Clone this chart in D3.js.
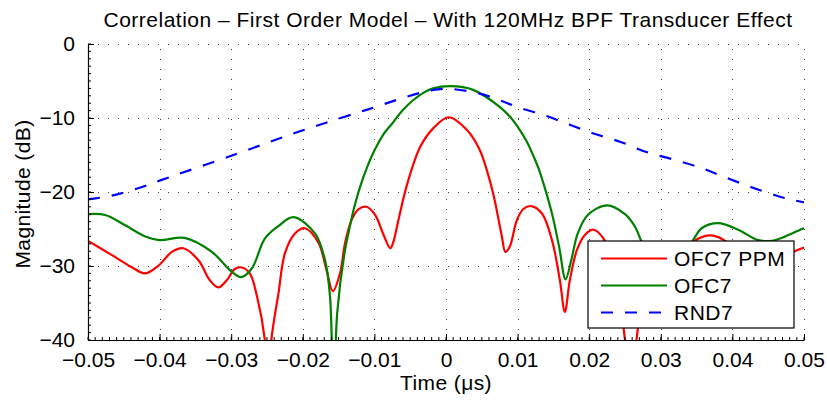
<!DOCTYPE html>
<html>
<head>
<meta charset="utf-8">
<script src="https://cdn.jsdelivr.net/npm/d3@7"></script>
<style>
  html, body { margin: 0; padding: 0; background: #ffffff; }
  svg { display: block; }
  text { font-family: "Liberation Sans", Arial, Helvetica, sans-serif; fill: #000; }
</style>
</head>
<body>
<svg id="chart" width="827" height="400"></svg>
<script>
// Correlation magnitude (dB) versus time offset (µs)
const seriesNames = ["OFC7 PPM", "OFC7", "RND7"];
const seriesColors = ["#ff0000", "#008000", "#0000ff"];

const ppmTime = [-0.0500, -0.0467, -0.0440, -0.0420, -0.0401, -0.0383, -0.0367, -0.0346, -0.0330, -0.0318,
  -0.0306, -0.0295, -0.0285, -0.0274, -0.0264, -0.0253, -0.0249, -0.0244, -0.0234, -0.0225,
  -0.0211, -0.0197, -0.0178, -0.0167, -0.0158, -0.0148, -0.0141, -0.0132, -0.0122, -0.0111,
  -0.0099, -0.0088, -0.0078, -0.0074, -0.0066, -0.0055, -0.0036, -0.0018, 0.0004, 0.0029,
  0.0047, 0.0061, 0.0068, 0.0078, 0.0083, 0.0089, 0.0099, 0.0108, 0.0119, 0.0134,
  0.0148, 0.0159, 0.0166, 0.0173, 0.0183, 0.0194, 0.0206, 0.0220, 0.0235, 0.0250,
  0.0257, 0.0266, 0.0280, 0.0295, 0.0315, 0.0330, 0.0345, 0.0360, 0.0373, 0.0390,
  0.0410, 0.0435, 0.0460, 0.0485, 0.0500];
const ppmDb = [-26.6, -28.5, -30.1, -31.0, -29.9, -28.1, -27.6, -29.2, -31.9, -32.9,
  -31.9, -30.4, -30.2, -31.0, -34.1, -40.0, -47.0, -40.0, -33.7, -28.3,
  -25.6, -24.9, -26.9, -30.5, -33.4, -31.0, -26.9, -23.8, -22.3, -22.0,
  -23.1, -25.6, -27.6, -26.9, -23.6, -19.2, -13.9, -11.4, -9.9, -11.6,
  -14.3, -18.4, -21.1, -26.0, -28.1, -27.4, -23.8, -22.3, -21.9, -22.9,
  -26.5, -31.9, -36.2, -31.9, -27.8, -25.8, -25.1, -26.3, -30.0, -40.0,
  -47.0, -40.0, -31.5, -30.0, -31.8, -29.0, -26.8, -26.0, -25.9, -26.6,
  -28.6, -30.4, -29.6, -28.1, -27.5];

const ofcTime = [-0.0500, -0.0476, -0.0448, -0.0420, -0.0400, -0.0365, -0.0327, -0.0299, -0.0286, -0.0271,
  -0.0253, -0.0234, -0.0213, -0.0183, -0.0169, -0.0162, -0.0157, -0.0152, -0.0141, -0.0135,
  -0.0128, -0.0120, -0.0110, -0.0100, -0.0088, -0.0074, -0.0060, -0.0046, -0.0030, -0.0018,
  0.0006, 0.0038, 0.0075, 0.0090, 0.0103, 0.0114, 0.0122, 0.0130, 0.0136, 0.0148,
  0.0158, 0.0167, 0.0175, 0.0184, 0.0198, 0.0225, 0.0250, 0.0264,
  0.0273, 0.0290, 0.0305, 0.0320, 0.0345, 0.0357, 0.0380, 0.0408, 0.0436, 0.0455,
  0.0474, 0.0497, 0.0500];
const ofcDb = [-23.0, -23.1, -24.5, -26.0, -26.5, -26.2, -28.1, -30.8, -31.5, -30.3,
  -26.3, -24.6, -23.4, -25.6, -29.2, -34.1, -48.0, -36.4, -27.8, -25.0,
  -22.0, -19.3, -16.6, -14.4, -12.3, -10.6, -8.9, -7.6, -6.5, -6.0,
  -5.7, -6.2, -8.5, -9.9, -11.6, -13.4, -15.1, -17.0, -18.8, -22.9,
  -27.4, -31.8, -29.2, -25.6, -23.1, -21.8, -23.0, -24.7,
  -26.7, -29.8, -31.0, -29.6, -26.5, -24.9, -24.2, -25.1, -26.5, -26.6,
  -26.0, -25.0, -24.9];

const rndTime = [-0.0500, -0.0467, -0.0430, -0.0398, -0.0297, -0.0204, -0.0111, -0.0036, -0.0008, 0.0010,
  0.0047, 0.0075, 0.0099, 0.0136, 0.0173, 0.0206, 0.0243, 0.0280, 0.0317, 0.0355,
  0.0387, 0.0425, 0.0462, 0.0485, 0.0500];
const rndDb = [-21.0, -20.5, -19.5, -18.4, -15.0, -11.8, -8.9, -6.6, -6.1, -6.1,
  -6.7, -7.6, -8.5, -9.6, -10.9, -12.1, -13.2, -14.6, -15.6, -16.7,
  -17.9, -19.3, -20.5, -21.1, -21.4];

const xTicks = [-0.05, -0.04, -0.03, -0.02, -0.01, 0, 0.01, 0.02, 0.03, 0.04, 0.05];
const yTicks = [0, -10, -20, -30, -40];
const xTickLabels = ["\u22120.05", "\u22120.04", "\u22120.03", "\u22120.02", "\u22120.01", "0", "0.01", "0.02", "0.03", "0.04", "0.05"];
const yTickLabels = ["0", "\u221210", "\u221220", "\u221230", "\u221240"];

const titleText = "Correlation \u2013 First Order Model \u2013 With 120MHz BPF Transducer Effect";
const xLabelText = "Time (\u03bcs)";
const yLabelText = "Magnitude (dB)";

const svg = d3.select("#chart");
const plotLeft = 88, plotRight = 804, plotTop = 44, plotBottom = 340;
const fontSize = 21;

const x = d3.scaleLinear().domain([-0.05, 0.05]).range([plotLeft, plotRight]);
const y = d3.scaleLinear().domain([-40, 0]).range([plotBottom, plotTop]);

svg.append("defs").append("clipPath").attr("id", "plotClip")
  .append("rect").attr("x", plotLeft).attr("y", plotTop)
  .attr("width", plotRight - plotLeft).attr("height", plotBottom - plotTop);

// dotted grid at every major tick
const grid = svg.append("g").attr("stroke", "#000").attr("stroke-width", 1)
  .attr("stroke-dasharray", "1,9").attr("shape-rendering", "crispEdges").attr("opacity", 0.75);
xTicks.forEach(t => {
  grid.append("line").attr("x1", Math.round(x(t)) + 0.5).attr("x2", Math.round(x(t)) + 0.5)
    .attr("y1", plotBottom).attr("y2", plotTop);
});
yTicks.forEach(t => {
  grid.append("line").attr("x1", plotLeft).attr("x2", plotRight)
    .attr("y1", Math.round(y(t)) + 0.5).attr("y2", Math.round(y(t)) + 0.5);
});

// data series
const line = d3.line().curve(d3.curveCatmullRom.alpha(0.5)).x(d => x(d[0])).y(d => y(d[1]));
const series = [
  { data: d3.zip(ppmTime, ppmDb), color: seriesColors[0], dash: null },
  { data: d3.zip(ofcTime, ofcDb), color: seriesColors[1], dash: null },
  { data: d3.zip(rndTime, rndDb), color: seriesColors[2], dash: "12,12" }
];
const plot = svg.append("g").attr("clip-path", "url(#plotClip)");
series.forEach(s => {
  plot.append("path").datum(s.data)
    .attr("d", line).attr("fill", "none")
    .attr("stroke", s.color).attr("stroke-width", 2.2)
    .attr("stroke-dasharray", s.dash);
});

// axes: bottom and left, ticks pointing inward with minor ticks
const xAxis = d3.axisBottom(x).tickValues(xTicks).tickSizeInner(-6).tickSizeOuter(0)
  .tickFormat((d, i) => xTickLabels[i]).tickPadding(13);
const gx = svg.append("g").attr("transform", `translate(0,${plotBottom})`).call(xAxis);
const yAxis = d3.axisLeft(y).tickValues(yTicks).tickSizeInner(-6).tickSizeOuter(0)
  .tickFormat((d, i) => yTickLabels[i]).tickPadding(13);
const gy = svg.append("g").attr("transform", `translate(${plotLeft},0)`).call(yAxis);

[gx, gy].forEach(g => {
  g.select(".domain").attr("stroke", "#000").attr("stroke-width", 1.2);
  g.selectAll(".tick line").attr("stroke", "#000");
  g.selectAll(".tick text").attr("font-size", fontSize).attr("fill", "#000")
    .attr("font-family", "'Liberation Sans', Arial, sans-serif");
});
gy.selectAll(".tick text").attr("dy", "0.33em");
gx.selectAll(".tick text").attr("dy", "0.68em");

const minorX = d3.range(-50, 51).map(v => v / 1000);
const minorY = d3.range(-40, 1);
const minor = svg.append("g").attr("stroke", "#000").attr("stroke-width", 1);
minorX.forEach(t => {
  minor.append("line").attr("x1", x(t)).attr("x2", x(t)).attr("y1", plotBottom).attr("y2", plotBottom - 3);
});
minorY.forEach(t => {
  minor.append("line").attr("x1", plotLeft).attr("x2", plotLeft + 3).attr("y1", y(t)).attr("y2", y(t));
});

// title and axis labels
svg.append("text").attr("x", 448).attr("y", 27).attr("text-anchor", "middle")
  .attr("font-size", fontSize).attr("letter-spacing", 0.5).text(titleText);
svg.append("text").attr("x", 446).attr("y", 390).attr("text-anchor", "middle")
  .attr("font-size", fontSize).attr("letter-spacing", 0.4).text(xLabelText);
svg.append("text").attr("transform", `translate(30,${(plotTop + plotBottom) / 2 + 2}) rotate(-90)`)
  .attr("text-anchor", "middle").attr("font-size", fontSize).attr("letter-spacing", 0.4).text(yLabelText);

// legend
const lg = svg.append("g");
lg.append("rect").attr("x", 588).attr("y", 241).attr("width", 206).attr("height", 87)
  .attr("fill", "#fff").attr("stroke", "#000").attr("stroke-width", 1.2);
series.forEach((s, i) => {
  const ly = 258.5 + i * 27;
  lg.append("line").attr("x1", 601).attr("x2", 667).attr("y1", ly).attr("y2", ly)
    .attr("stroke", s.color).attr("stroke-width", 2.2).attr("stroke-dasharray", s.dash);
  lg.append("text").attr("x", 674).attr("y", ly + 7.5).attr("font-size", fontSize)
    .attr("letter-spacing", 0.5).text(seriesNames[i]);
});
</script>
</body>
</html>
